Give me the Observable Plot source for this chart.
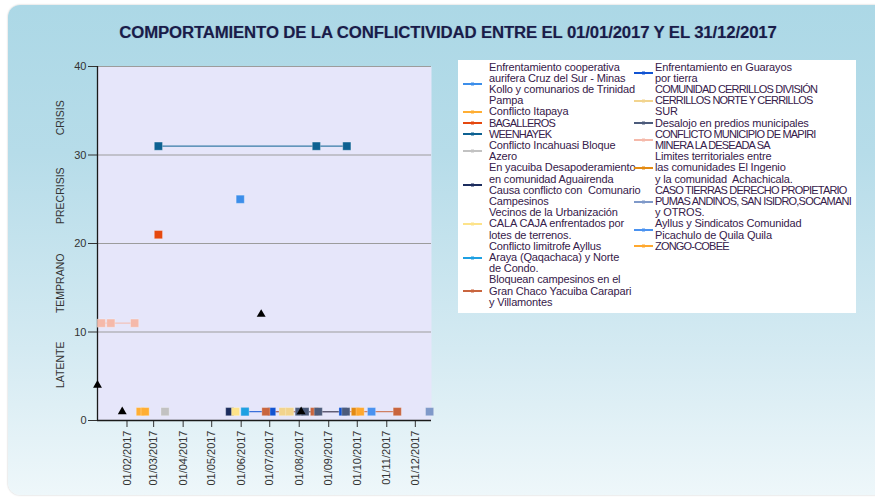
<!DOCTYPE html>
<html>
<head>
<meta charset="utf-8">
<script src="https://cdn.jsdelivr.net/npm/d3@7"></script>
<script src="https://cdn.jsdelivr.net/npm/@observablehq/plot@0.6"></script>
<style>
  html, body { margin: 0; padding: 0; background: #ffffff; }
  body { width: 875px; height: 499px; position: relative; overflow: hidden; font-family: "Liberation Sans", Arial, sans-serif; }
  #panel { position: absolute; left: 8px; top: 5px; width: 880px; height: 490px; border-radius: 12px;
    background: linear-gradient(to bottom, #acd8e6 0%, #b6dce9 30%, #d4eaf2 70%, #eef7fa 100%);
    box-shadow: 0 0 2px rgba(0,0,0,0.25); }
  #title { position: absolute; left: 0; width: 896px; top: 23px; text-align: center; font-weight: bold;
    font-size: 16.8px; color: #1a1c4a; letter-spacing: -0.15px; text-shadow: 0 0 1px rgba(27,29,77,0.3); }
  #chart { position: absolute; left: 0; top: 0; }
  #legend { position: absolute; left: 458px; top: 60px; width: 398px; height: 253px; background: #ffffff; }
  .col { position: absolute; top: 1.5px; }
  .entry { position: relative; padding-left: 31px; font-size: 11px; line-height: 11.2px; color: #36204a; white-space: pre; letter-spacing: -0.15px; }
  .entry span { display: block; }
  .entry span.caps { letter-spacing: -0.8px; }
  .entry svg { position: absolute; top: 50%; margin-top: -3px; }
</style>
</head>
<body>
<div id="panel"></div>
<div id="title">COMPORTAMIENTO DE LA CONFLICTIVIDAD ENTRE EL 01/01/2017 Y EL 31/12/2017</div>
<div id="chart"></div>
<div id="legend"></div>
<script>
// ---- data ----
const seriesNames = [
  "Enfrentamiento cooperativa\naurifera Cruz del Sur - Minas\nKollo y comunarios de Trinidad\nPampa",
  "Conflicto Itapaya",
  "BAGALLEROS",
  "WEENHAYEK",
  "Conflicto Incahuasi Bloque\nAzero",
  "En yacuiba Desapoderamiento\nen comunidad Aguairenda\nCausa conflicto con  Comunario\nCampesinos",
  "Vecinos de la Urbanización\nCALA CAJA enfrentados por\nlotes de terrenos.",
  "Conflicto limitrofe Ayllus\nAraya (Qaqachaca) y Norte\nde Condo.",
  "Bloquean campesinos en el\nGran Chaco Yacuiba Carapari\ny Villamontes",
  "Enfrentamiento en Guarayos\npor tierra",
  "COMUNIDAD CERRILLOS DIVISIÓN\nCERRILLOS NORTE Y CERRILLOS\nSUR",
  "Desalojo en predios municipales",
  "CONFLICTO MUNICIPIO DE MAPIRI\nMINERA LA DESEADA SA",
  "Limites territoriales entre\nlas comunidades El Ingenio\ny la comunidad  Achachicala.",
  "CASO TIERRAS DERECHO PROPIETARIO\nPUMAS ANDINOS, SAN ISIDRO,SOCAMANI\ny OTROS.",
  "Ayllus y Sindicatos Comunidad\nPicachulo de Quila Quila",
  "ZONGO-COBEE",
  "" // hitos (black triangles, not in legend)
];
const seriesColors = [
  "#3c8eea", "#ffae33", "#e5480f", "#0d6192", "#c2c2c2", "#1c2d5e",
  "#fde38a", "#1ea0e2", "#c9653e", "#1153d2", "#f2d48e", "#4c5b7b",
  "#f5b9aa", "#e38a12", "#7f99c9", "#4a92f0", "#ffa82e", "#000000"
];
const legendColumn1 = [0, 1, 2, 3, 4, 5, 6, 7, 8];
const legendColumn2 = [9, 10, 11, 12, 13, 14, 15, 16];

// each point: series index, date, level
const pointSeries = [17, 17, 17, 17,  0,  1, 1,  2,  3, 3, 3,  4,  5,  6,  7,  8, 8, 8,  9, 9, 9,  10, 10,  11, 11, 11, 11,  12, 12, 12,  13,  14,  15,  16];
const pointDates = [
  "2017-01-01", "2017-01-27", "2017-06-22", "2017-08-03",
  "2017-05-31",
  "2017-02-15", "2017-02-20",
  "2017-03-06",
  "2017-03-06", "2017-08-19", "2017-09-20",
  "2017-03-13",
  "2017-05-20",
  "2017-05-26",
  "2017-06-05",
  "2017-06-27", "2017-08-17", "2017-11-12",
  "2017-06-05", "2017-07-03", "2017-09-16",
  "2017-07-15", "2017-07-22",
  "2017-08-01", "2017-08-07", "2017-08-21", "2017-09-19",
  "2017-01-05", "2017-01-15", "2017-02-09",
  "2017-09-29",
  "2017-12-16",
  "2017-10-16",
  "2017-10-04"
];
const pointValues = [4, 1, 12, 1,  25,  1, 1,  21,  31, 31, 31,  1,  1,  1,  1,  1, 1, 1,  1, 1, 1,  1, 1,  1, 1, 1, 1,  11, 11, 11,  1,  1,  1,  1];
// order in which series are painted (later on top)
const drawOrder = [0, 1, 2, 3, 4, 5, 6, 9, 7, 8, 10, 11, 12, 13, 14, 15, 16, 17];

const levelTicks = [0, 10, 20, 30, 40];
const levelNames = ["CRISIS", "PRECRISIS", "TEMPRANO", "LATENTE"];
const levelNamePos = [34.2, 25.4, 15.5, 6.3];
const monthTicks = ["2017-02-01", "2017-03-01", "2017-04-01", "2017-05-01", "2017-06-01", "2017-07-01",
  "2017-08-01", "2017-09-01", "2017-10-01", "2017-11-01", "2017-12-01"];
const xStart = "2017-01-01", xEnd = "2017-12-18";

// ---- build ----
const parse = d3.utcParse("%Y-%m-%d");
const rows = [];
drawOrder.forEach(s => {
  pointSeries.forEach((ps, i) => {
    if (ps === s) rows.push({series: s, date: parse(pointDates[i]), value: pointValues[i], color: seriesColors[s]});
  });
});
const lineRows = rows.filter(r => r.series !== 17).slice().sort((a, b) => a.date - b.date);
const squareRows = rows.filter(r => r.series !== 17);
const triRows = rows.filter(r => r.series === 17);
const bands = levelNames.map((t, i) => ({t, y: levelNamePos[i]}));

const chart = Plot.plot({
  width: 875,
  height: 499,
  marginLeft: 97,
  marginTop: 66,
  marginRight: 444,
  marginBottom: 79,
  style: {background: "transparent", fontFamily: "Liberation Sans, Arial, sans-serif", fontSize: "11px", color: "#333"},
  x: {type: "utc", domain: [parse(xStart), parse(xEnd)], ticks: monthTicks.map(parse), tickFormat: d3.utcFormat("%d/%m/%Y"), tickRotate: -90, tickSize: 7, tickPadding: 3, label: null},
  y: {domain: [0, 40], ticks: levelTicks, tickSize: 9, tickPadding: 2, label: null},
  marks: [
    Plot.frame({fill: "#e6e6fa", stroke: null}),
    Plot.ruleY(levelTicks.filter(d => d > 0), {stroke: "#9c9c9c", strokeWidth: 1}),
    Plot.ruleY([0], {stroke: "#1a1a1a", strokeWidth: 1.3}),
    Plot.ruleX([parse(xStart)], {stroke: "#1a1a1a", strokeWidth: 1.3}),
    Plot.text(bands, {y: "y", text: "t", frameAnchor: "left", textAnchor: "middle", dx: -37, rotate: -90, fontSize: 10.5, fill: "#333"}),
    Plot.line(lineRows, {x: "date", y: "value", z: "series", stroke: "color", strokeWidth: 1.2, strokeOpacity: 0.8}),
    Plot.dot(squareRows, {x: "date", y: "value", symbol: "square", r: 4.6, fill: "color", stroke: "#ffffff", strokeOpacity: 0.35, strokeWidth: 0.8}),
    Plot.dot(triRows, {x: "date", y: "value", symbol: "triangle", r: 3.3, fill: "#000000", stroke: null})
  ]
});
document.getElementById("chart").appendChild(chart);

// legend
const legend = document.getElementById("legend");
[[legendColumn1, 0, 5], [legendColumn2, 166, 10]].forEach(([idx, left, swatchLeft]) => {
  const col = document.createElement("div");
  col.className = "col";
  col.style.left = left + "px";
  idx.forEach(s => {
    const e = document.createElement("div");
    e.className = "entry";
    seriesNames[s].split("\n").forEach(line => {
      const sp = document.createElement("span");
      sp.textContent = line;
      const letters = line.replace(/[^A-Za-zÁÉÍÓÚÑáéíóúñ]/g, "");
      if (letters.length > 3 && letters === letters.toUpperCase()) sp.className = "caps";
      e.appendChild(sp);
    });
    const c = seriesColors[s];
    e.insertAdjacentHTML("afterbegin",
      `<svg width="20" height="6" style="left:${swatchLeft}px"><line x1="0" x2="19" y1="3" y2="3" stroke="${c}" stroke-width="2"/><rect x="8" y="1.5" width="3" height="3" fill="${c}"/></svg>`);
    col.appendChild(e);
  });
  legend.appendChild(col);
});
</script>
</body>
</html>
